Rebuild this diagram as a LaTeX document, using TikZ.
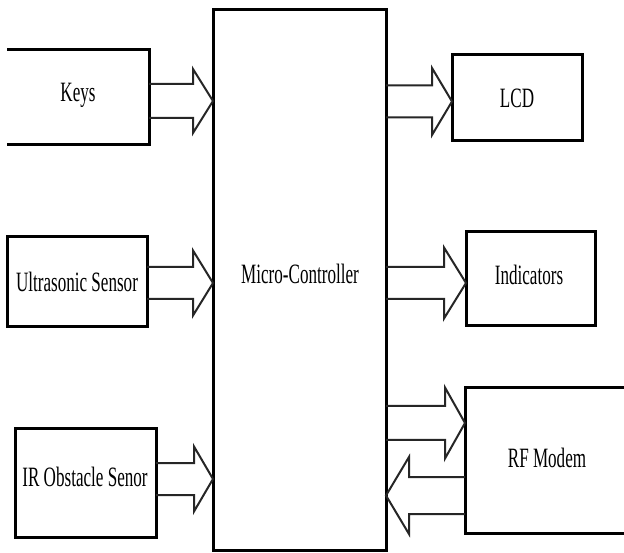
\documentclass[tikz,border=0pt]{standalone}
\usepackage{fontspec}
\setmainfont{Liberation Serif}
\usetikzlibrary{calc}
\newcommand\lbl[1]{\scalebox{0.61}[1]{#1}}
\newcommand\blockR[6]{%
  \draw[barrow] let \p1=(#1.east), \p2=(#2.west) in
    (\x1,{(#3+#4)*1pt}) -- ({\x2-#6*1pt},{(#3+#4)*1pt}) -- ({\x2-#6*1pt},{(#3+#5)*1pt})
    -- (\x2,{#3*1pt}) -- ({\x2-#6*1pt},{(#3-#5)*1pt}) -- ({\x2-#6*1pt},{(#3-#4)*1pt})
    -- (\x1,{(#3-#4)*1pt});}
\newcommand\blockL[6]{%
  \draw[barrow] let \p1=(#1.west), \p2=(#2.east) in
    (\x1,{(#3+#4)*1pt}) -- ({\x2+#6*1pt},{(#3+#4)*1pt}) -- ({\x2+#6*1pt},{(#3+#5)*1pt})
    -- (\x2,{#3*1pt}) -- ({\x2+#6*1pt},{(#3-#5)*1pt}) -- ({\x2+#6*1pt},{(#3-#4)*1pt})
    -- (\x1,{(#3-#4)*1pt});}
\begin{document}
\begin{tikzpicture}[x=1pt,y=1pt,
  box/.style={draw=black, line width=3pt, rectangle, inner sep=0pt, outer sep=0pt,
    font=\fontsize{28}{30}\selectfont},
  openbox/.style={rectangle, inner sep=0pt, outer sep=0pt,
    font=\fontsize{28}{30}\selectfont},
  edge3/.style={draw=black, line width=3pt},
  barrow/.style={draw=black!85, line width=2pt, line join=miter},
  txt/.style={font=\fontsize{28}{30}\selectfont, inner sep=0pt}]
\useasboundingbox (0,0) rectangle (624,552);
\fill[white] (0,0) rectangle (624,552);
% boxes
\node[openbox, minimum width=142pt, minimum height=95pt] (keys) at (78,454.5) {};
\draw[edge3] (keys.north west) -- (keys.north east) -- (keys.south east) -- (keys.south west);
\node[txt] at (78,457) {\lbl{Keys}};
\node[box, minimum width=173pt, minimum height=540pt] (mc) at (299.5,272) {};
\node[txt] at (300,278) {\lbl{Micro-Controller}};
\node[box, minimum width=130pt, minimum height=86pt] (lcd) at (517,454) {\lbl{LCD}};
\node[box, minimum width=140pt, minimum height=90pt] (us) at (77,270) {\lbl{Ultrasonic Sensor}};
\node[box, minimum width=129pt, minimum height=94pt] (ind) at (530.5,273) {};
\node[txt] at (529,277) {\lbl{Indicators}};
\node[box, minimum width=141pt, minimum height=108pt] (ir) at (85.5,69) {};
\node[txt] at (85,75) {\lbl{IR Obstacle Senor}};
\node[openbox, minimum width=161pt, minimum height=145pt] (rf) at (545.5,91.5) {};
\draw[edge3] (rf.north east) -- (rf.north west) -- (rf.south west) -- (rf.south east);
\node[txt] at (547,94) {\lbl{RF Modem}};
% block arrows
\blockR{keys}{mc}{451}{17}{32}{20}
\blockR{us}{mc}{269}{16}{32.5}{20}
\blockR{ir}{mc}{73}{16}{32.5}{19}
\blockR{mc}{lcd}{450.5}{16}{33.5}{20}
\blockR{mc}{ind}{269}{16}{35.5}{22}
\blockR{mc}{rf}{129}{17}{35.5}{20}
\blockL{rf}{mc}{56.5}{18.5}{38.5}{23}
\end{tikzpicture}
\end{document}
